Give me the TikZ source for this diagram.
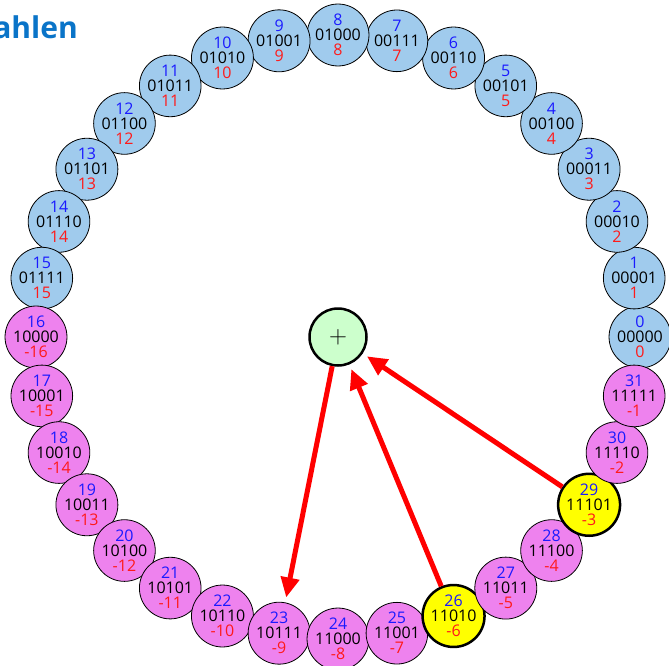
\documentclass[tikz,border=0pt]{standalone}
\usepackage{fontspec}
\setmainfont{Open Sans}
\usetikzlibrary{arrows.meta}
\definecolor{posfill}{HTML}{A0CBED}
\definecolor{negfill}{HTML}{EE82EE}
\definecolor{hlfill}{HTML}{FFFF00}
\definecolor{plusfill}{HTML}{CCFFCC}
\definecolor{numblue}{HTML}{1A1AFF}
\definecolor{valred}{HTML}{FF1A1A}
\definecolor{titleblue}{HTML}{0A74C8}
\begin{document}
\begin{tikzpicture}[x=1pt,y=-1pt,
  numnode/.style={circle, draw=black, minimum size=56pt, inner sep=0pt,
    align=center, font=\fontsize{16}{15}\selectfont},
  plusnode/.style={circle, draw=black, line width=2.5pt, fill=plusfill,
    minimum size=57pt, inner sep=0pt, font=\fontsize{23}{23}\selectfont},
  redarrow/.style={draw=red, line width=5pt,
    -{Triangle[length=20pt,width=18pt]}, shorten >=5pt},
  titletext/.style={anchor=base east, inner sep=0pt, text=titleblue,
    font=\fontsize{30}{30}\selectfont\bfseries}
]
\useasboundingbox (0,0) rectangle (669,666);
\clip (0,0) rectangle (669,666);
\node[titletext] (title) at (78,39) {Zahlen};
\foreach \k/\b/\v/\fc/\lw in {
  0/00000/0/posfill/0.8pt, 1/00001/1/posfill/0.8pt, 2/00010/2/posfill/0.8pt,
  3/00011/3/posfill/0.8pt, 4/00100/4/posfill/0.8pt, 5/00101/5/posfill/0.8pt,
  6/00110/6/posfill/0.8pt, 7/00111/7/posfill/0.8pt, 8/01000/8/posfill/0.8pt,
  9/01001/9/posfill/0.8pt, 10/01010/10/posfill/0.8pt, 11/01011/11/posfill/0.8pt,
  12/01100/12/posfill/0.8pt, 13/01101/13/posfill/0.8pt, 14/01110/14/posfill/0.8pt,
  15/01111/15/posfill/0.8pt, 16/10000/-16/negfill/0.8pt, 17/10001/-15/negfill/0.8pt,
  18/10010/-14/negfill/0.8pt, 19/10011/-13/negfill/0.8pt, 20/10100/-12/negfill/0.8pt,
  21/10101/-11/negfill/0.8pt, 22/10110/-10/negfill/0.8pt, 23/10111/-9/negfill/0.8pt,
  24/11000/-8/negfill/0.8pt, 25/11001/-7/negfill/0.8pt, 26/11010/-6/hlfill/2.5pt,
  27/11011/-5/negfill/0.8pt, 28/11100/-4/negfill/0.8pt, 29/11101/-3/hlfill/2.5pt,
  30/11110/-2/negfill/0.8pt, 31/11111/-1/negfill/0.8pt} {
  \node[numnode, fill=\fc, line width=\lw] (n\k)
    at ({338+302*cos(11.25*\k)}, {337-302*sin(11.25*\k)})
    {\textcolor{numblue}{\k}\\\b\\\textcolor{valred}{\v}};
}
\node[plusnode] (plus) at (338,337) {$+$};
\draw[redarrow] (n29) -- (plus);
\draw[redarrow] (n26) -- (plus);
\draw[redarrow] (plus) -- (n23);
\end{tikzpicture}
\end{document}
